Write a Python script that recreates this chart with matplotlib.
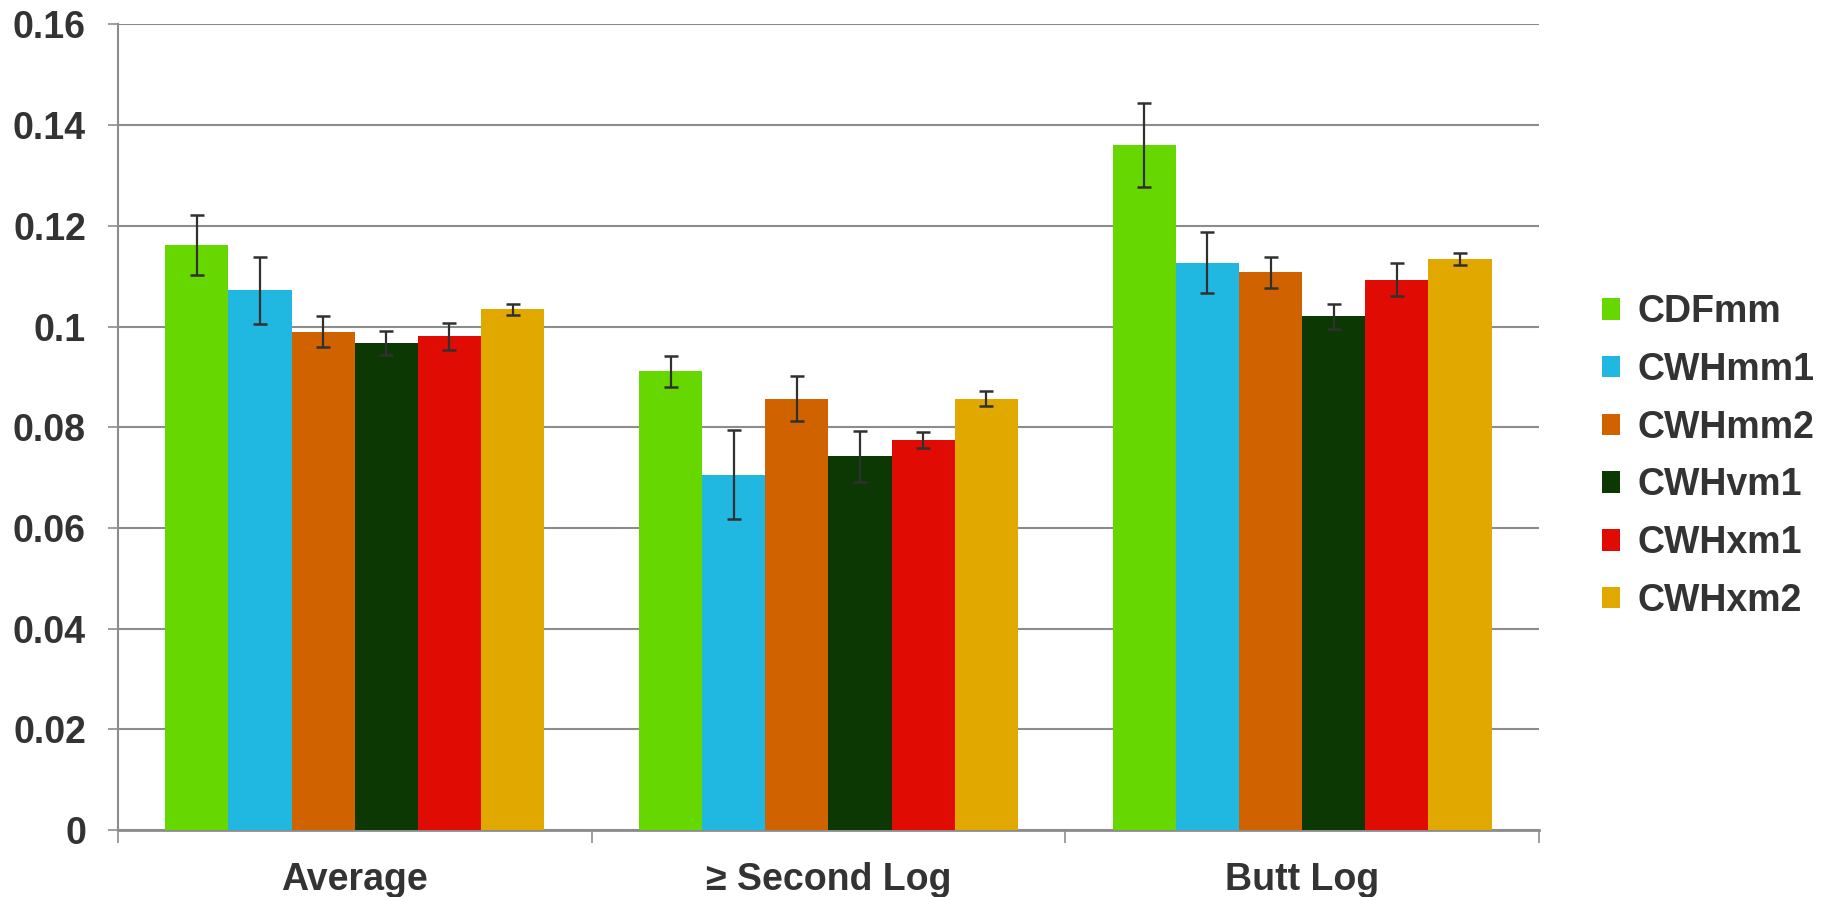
import matplotlib
matplotlib.use("Agg")
import matplotlib.pyplot as plt
import numpy as np
from matplotlib.patches import Patch
from matplotlib.ticker import FuncFormatter

categories = ["Average", "\u2265 Second Log", "Butt Log"]
series = ["CDFmm", "CWHmm1", "CWHmm2", "CWHvm1", "CWHxm1", "CWHxm2"]
colors = ["#66D800", "#20B8E0", "#D16200", "#0C3804", "#E00C04", "#E1A800"]

CDFmm = [0.1162, 0.0911, 0.1361]
CWHmm1 = [0.1072, 0.0706, 0.1127]
CWHmm2 = [0.0990, 0.0857, 0.1108]
CWHvm1 = [0.0968, 0.0742, 0.1020]
CWHxm1 = [0.0981, 0.0774, 0.1093]
CWHxm2 = [0.1034, 0.0857, 0.1134]

CDFmm_err = [0.0059, 0.0031, 0.0083]
CWHmm1_err = [0.0067, 0.0089, 0.0061]
CWHmm2_err = [0.0030, 0.0045, 0.0031]
CWHvm1_err = [0.0024, 0.0050, 0.0024]
CWHxm1_err = [0.0027, 0.0016, 0.0033]
CWHxm2_err = [0.0011, 0.0015, 0.0012]

values = [CDFmm, CWHmm1, CWHmm2, CWHvm1, CWHxm1, CWHxm2]
errors = [CDFmm_err, CWHmm1_err, CWHmm2_err, CWHvm1_err, CWHxm1_err, CWHxm2_err]

plt.rcParams['font.family'] = ['Liberation Sans', 'DejaVu Sans']
plt.rcParams['font.weight'] = 'bold'
txt = "#333333"
grid = "#8C8C8C"
fs = 27

fig = plt.figure(figsize=(18.31, 8.97), dpi=100)
ax = fig.add_axes([0.0644, 0.0747, 0.8405 - 0.0644, 0.9727 - 0.0747])

x = np.arange(len(categories))
n = len(series)
w = 0.8 / n
for i, (vals, errs, c) in enumerate(zip(values, errors, colors)):
    pos = x - 0.4 + w * (i + 0.5)
    ax.bar(pos, vals, width=w, color=c, edgecolor='none', zorder=3)
    ax.errorbar(pos, vals, yerr=errs, fmt='none', ecolor="#303030",
                elinewidth=1.6, capsize=5, capthick=1.8, zorder=4)

ax.set_xlim(-0.5, len(categories) - 0.5)
ax.set_ylim(0, 0.16)
ax.set_yticks(np.arange(0, 0.1601, 0.02))
ax.yaxis.set_major_formatter(FuncFormatter(lambda v, p: "%g" % round(v, 2)))
ax.yaxis.grid(True, color=grid, linewidth=1.5, zorder=0)
ax.set_axisbelow(True)

ax.set_xticks(x)
ax.set_xticklabels(categories)
ax.set_xticks(np.arange(-0.5, len(categories), 1.0), minor=True)
ax.tick_params(axis='x', which='major', length=0, pad=23, labelsize=fs, labelcolor=txt)
ax.tick_params(axis='x', which='minor', length=9, width=1.2, color=grid, direction='out')
ax.tick_params(axis='y', which='major', length=7, width=1.2, color=grid, pad=16,
               labelsize=fs, labelcolor=txt)
for lab in ax.get_xticklabels() + ax.get_yticklabels():
    lab.set_fontweight('bold')

for s in ['top', 'right']:
    ax.spines[s].set_visible(False)
ax.spines['left'].set_color(grid)
ax.spines['left'].set_linewidth(1.5)
ax.spines['bottom'].set_color(grid)
ax.spines['bottom'].set_linewidth(2)

handles = [Patch(facecolor=c, edgecolor='none') for c in colors]
leg = fig.legend(handles, series, loc='center left', bbox_to_anchor=(0.8665, 0.491),
                 frameon=False, fontsize=fs, handlelength=0.5, handleheight=0.5,
                 handletextpad=0.45, labelspacing=0.58, borderaxespad=0)
for t in leg.get_texts():
    t.set_color(txt)
    t.set_fontweight('bold')

fig.savefig("out.png", dpi=100)
